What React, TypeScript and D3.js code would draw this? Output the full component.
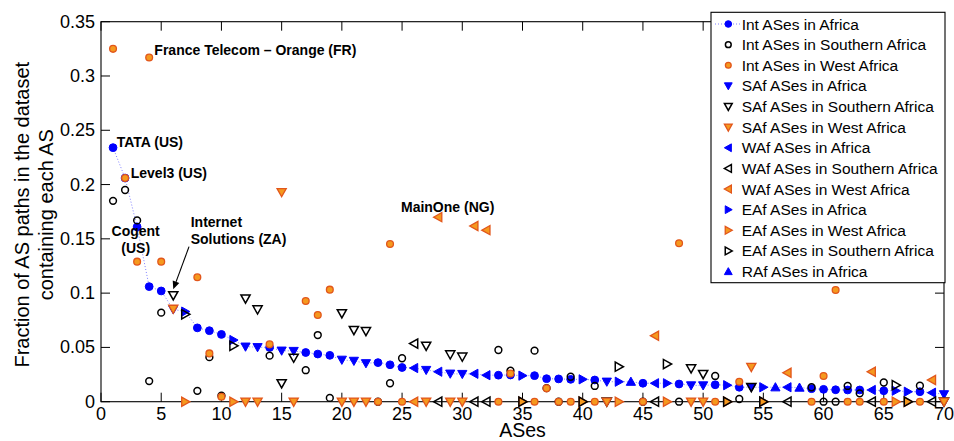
import React from "react";
import * as d3 from "d3";

// ---------- data ----------
const asType = [
  "Int","Int","Int","Int","Int","SAf","EAf","Int","Int","Int",
  "EAf","SAf","SAf","Int","SAf","SAf","Int","Int","Int","SAf",
  "SAf","SAf","Int","Int","Int","WAf","SAf","WAf","SAf","SAf",
  "WAf","WAf","Int","Int","EAf","Int","Int","Int","Int","EAf",
  "Int","SAf","EAf","RAf","Int","WAf","EAf","Int","SAf","SAf",
  "Int","EAf","Int","SAf","EAf","RAf","WAf","RAf","Int","Int",
  "Int","Int","Int","WAf","Int","EAf","EAf","Int","WAf","SAf",
];

const africaShare = [
  0.234, 0.206, 0.161, 0.106, 0.102, 0.085, 0.083, 0.068, 0.0654, 0.062,
  0.0568, 0.0507, 0.0502, 0.05, 0.047, 0.0467, 0.0453, 0.0439, 0.0427, 0.0386,
  0.0376, 0.0354, 0.036, 0.034, 0.0315, 0.031, 0.0292, 0.0276, 0.0258, 0.0255,
  0.0257, 0.0244, 0.0244, 0.0246, 0.024, 0.024, 0.0212, 0.021, 0.0206, 0.0206,
  0.02, 0.0184, 0.0184, 0.0184, 0.017, 0.017, 0.017, 0.0163, 0.015, 0.015,
  0.0156, 0.0152, 0.0133, 0.0133, 0.0133, 0.0133, 0.0133, 0.013, 0.012, 0.0114,
  0.011, 0.0108, 0.0108, 0.0108, 0.0101, 0.0101, 0.0092, 0.0092, 0.0083, 0.0068,
];

const southernShare: (number | null)[] = [
  0.185, 0.195, 0.167, 0.019, 0.082, 0.098, 0.0805, 0.01, 0.041, 0.0055,
  0.0515, 0.095, 0.085, 0.0424, 0.017, 0.0405, 0.029, 0.0614, 0.0035, 0.0814,
  0.066, 0.065, 0, 0.017, 0.04, 0.0535, 0.0515, 0, 0.0435, 0.0415,
  0, 0, 0.0476, 0.0285, 0, 0.047, 0.0125, 0, 0.023, 0,
  0.0145, 0, 0.0322, null, 0, 0, 0.0347, 0, 0.0307, 0.0255,
  0.0237, 0, 0.0025, 0.0135, 0, null, 0, null, 0.0133, 0,
  0, 0.0145, 0.0077, 0, 0.0177, 0.0152, 0, 0.0147, 0, 0,
];

const westShare: (number | null)[] = [
  0.325, 0.206, 0.129, 0.317, 0.129, 0.0855, 0, 0.1146, 0.0445, 0.0046,
  0, 0, 0, 0.0528, 0.193, 0, 0.0927, 0.0799, 0.1032, 0,
  0, 0, 0, 0.1452, 0, 0, 0, 0.17, 0, 0,
  0.1618, 0.158, 0, 0.026, 0, 0, 0.0123, 0, 0, 0,
  0, 0, 0, null, 0, 0.0608, 0, 0.146, 0, 0,
  0, 0, 0.0184, 0.032, 0, null, 0.0267, null, 0, 0.0237,
  0.1029, 0, 0, 0.0276, 0, 0, 0, 0, 0.02, 0,
];

const xTicks = [0, 5, 10, 15, 20, 25, 30, 35, 40, 45, 50, 55, 60, 65, 70];
const yTicks = [0, 0.05, 0.1, 0.15, 0.2, 0.25, 0.3, 0.35];

// legend order = drawing order
const seriesDefs = [
  { type: "Int", region: "Africa", label: "Int ASes in Africa" },
  { type: "Int", region: "Southern", label: "Int ASes in Southern Africa" },
  { type: "Int", region: "West", label: "Int ASes in West Africa" },
  { type: "SAf", region: "Africa", label: "SAf ASes in Africa" },
  { type: "SAf", region: "Southern", label: "SAf ASes in Southern Africa" },
  { type: "SAf", region: "West", label: "SAf ASes in West Africa" },
  { type: "WAf", region: "Africa", label: "WAf ASes in Africa" },
  { type: "WAf", region: "Southern", label: "WAf ASes in Southern Africa" },
  { type: "WAf", region: "West", label: "WAf ASes in West Africa" },
  { type: "EAf", region: "Africa", label: "EAf ASes in Africa" },
  { type: "EAf", region: "West", label: "EAf ASes in West Africa" },
  { type: "EAf", region: "Southern", label: "EAf ASes in Southern Africa" },
  { type: "RAf", region: "Africa", label: "RAf ASes in Africa" },
];

const annotations = [
  { lines: ["France Telecom \u2013 Orange (FR)"], x: 4.43, y: 0.3193, anchor: "start" },
  { lines: ["TATA (US)"], x: 1.3, y: 0.2349, anchor: "start" },
  { lines: ["Level3 (US)"], x: 2.47, y: 0.2058, anchor: "start" },
  { lines: ["Cogent", "(US)"], x: 2.88, y: 0.1529, anchor: "middle" },
  { lines: ["Internet", "Solutions (ZA)"], x: 7.45, y: 0.1612, anchor: "start" },
  { lines: ["MainOne (NG)"], x: 24.91, y: 0.175, anchor: "start" },
];
const arrowFrom = { x: 7.31, y: 0.1428 };
const arrowTo = { x: 6.0, y: 0.1035 };

// ---------- layout ----------
const W = 954;
const H = 441;
const left = 101;
const right = 944;
const top = 21.7;
const bottom = 401.7;
const FONT = "'Liberation Sans', Arial, Helvetica, sans-serif";

const BLUE = "#0000ff";
const ORANGE_FILL = "#f5991e";
const ORANGE_EDGE = "#e2561b";

function shapePath(type: string, s: number) {
  const a = 4.6 * s;
  const b = 3.6 * s;
  switch (type) {
    case "SAf":
      return `M${-a},${-b}L${a},${-b}L0,${a}Z`;
    case "RAf":
      return `M${-a},${b}L${a},${b}L0,${-a}Z`;
    case "EAf":
      return `M${-b},${-a}L${-b},${a}L${a},0Z`;
    case "WAf":
      return `M${b},${-a}L${b},${a}L${-a},0Z`;
    default:
      return null;
  }
}

function Marker({ type, region, cx, cy, s = 1 }: any) {
  let fill = BLUE, stroke = BLUE, sw = 1;
  if (region === "Southern") { fill = "none"; stroke = "#000"; sw = 1.5; }
  if (region === "West") { fill = ORANGE_FILL; stroke = ORANGE_EDGE; sw = 1.3; }
  const p = shapePath(type, s);
  if (!p) {
    const r = (region === "Africa" ? 3.9 : 3.4) * s;
    return <circle cx={cx} cy={cy} r={r} fill={fill} stroke={stroke} strokeWidth={sw} />;
  }
  return <path d={p} transform={`translate(${cx},${cy})`} fill={fill} stroke={stroke} strokeWidth={sw} strokeLinejoin="miter" />;
}

export default function App() {
  const x = d3.scaleLinear().domain([0, 70]).range([left, right]);
  const y = d3.scaleLinear().domain([0, 0.35]).range([bottom, top]);
  const ranks = asType.map((_, i) => i + 1);

  const regionValues: Record<string, (number | null)[]> = {
    Africa: africaShare,
    Southern: southernShare,
    West: westShare,
  };

  const line = d3.line<number>().x((_, i) => x(ranks[i])).y((d) => y(d));
  const tick = 9;

  const legX = 711, legY = 12.3, legW = 234, legH = 270.4;
  const legRow = 20.63;

  // arrow
  const ax1 = x(arrowFrom.x), ay1 = y(arrowFrom.y), ax2 = x(arrowTo.x), ay2 = y(arrowTo.y);
  const ang = Math.atan2(ay2 - ay1, ax2 - ax1);
  const hl = 8, hw = 3.5;
  const bx = ax2 - hl * Math.cos(ang), by = ay2 - hl * Math.sin(ang);
  const head = `M${ax2},${ay2}L${bx + hw * Math.sin(ang)},${by - hw * Math.cos(ang)}L${bx - hw * Math.sin(ang)},${by + hw * Math.cos(ang)}Z`;

  return (
    <svg width={W} height={H} style={{ position: "absolute", left: 0, top: 0, background: "#fff" }} fontFamily={FONT}>
      <rect x={0} y={0} width={W} height={H} fill="#fff" />
      {/* dotted connecting line through Africa values */}
      <path d={line(africaShare) || ""} fill="none" stroke="#7f7fff" strokeWidth={1} strokeDasharray="1,2" />

      {/* axes box */}
      <rect x={left} y={top} width={right - left} height={bottom - top} fill="none" stroke="#000" strokeWidth={1.1} />
      {xTicks.map((t) => (
        <g key={"xt" + t}>
          <line x1={x(t)} x2={x(t)} y1={bottom} y2={bottom - tick} stroke="#000" />
          <line x1={x(t)} x2={x(t)} y1={top} y2={top + tick} stroke="#000" />
          <text x={x(t)} y={bottom + 18} textAnchor="middle" fontSize={18}>{t}</text>
        </g>
      ))}
      {yTicks.map((t) => (
        <g key={"yt" + t}>
          <line x1={left} x2={left + tick} y1={y(t)} y2={y(t)} stroke="#000" />
          <line x1={right} x2={right - tick} y1={y(t)} y2={y(t)} stroke="#000" />
          <text x={left - 6} y={y(t) + 6} textAnchor="end" fontSize={18}>{String(+t.toFixed(2))}</text>
        </g>
      ))}

      {/* markers */}
      {seriesDefs.map((sd, si) => (
        <g key={"s" + si}>
          {ranks.map((r, i) => {
            if (asType[i] !== sd.type) return null;
            const v = regionValues[sd.region][i];
            if (v === null || v === undefined) return null;
            return <Marker key={i} type={sd.type} region={sd.region} cx={x(r)} cy={y(v)} />;
          })}
        </g>
      ))}

      {/* annotations */}
      {annotations.map((a, i) => (
        <text key={"a" + i} x={x(a.x)} y={y(a.y)} fontSize={14} fontWeight="bold" textAnchor={a.anchor as any}>
          {a.lines.map((l, j) => (
            <tspan key={j} x={x(a.x)} dy={j === 0 ? 0 : 17.5}>{l}</tspan>
          ))}
        </text>
      ))}
      <line x1={ax1} y1={ay1} x2={bx} y2={by} stroke="#000" strokeWidth={1.1} />
      <path d={head} fill="#000" />

      {/* axis labels */}
      <text x={(left + right) / 2} y={437} textAnchor="middle" fontSize={19.5}>ASes</text>
      <text transform={`translate(29,${(top + bottom) / 2 + 3}) rotate(-90)`} textAnchor="middle" fontSize={20}>
        Fraction of AS paths in the dataset
      </text>
      <text transform={`translate(53,${(top + bottom) / 2 + 3}) rotate(-90)`} textAnchor="middle" fontSize={20}>
        containing each AS
      </text>

      {/* legend */}
      <rect x={legX} y={legY} width={legW} height={legH} fill="#fff" stroke="#000" strokeWidth={1.1} />
      {seriesDefs.map((sd, i) => {
        const cy = legY + 11.7 + i * legRow;
        return (
          <g key={"l" + i}>
            {i === 0 && <line x1={715} x2={741} y1={cy} y2={cy} stroke="#7f7fff" strokeWidth={1} strokeDasharray="1,2" />}
            <Marker type={sd.type} region={sd.region} cx={728.3} cy={cy} s={0.85} />
            <text x={741.7} y={cy + 5.5} fontSize={15.5}>{sd.label}</text>
          </g>
        );
      })}
    </svg>
  );
}
